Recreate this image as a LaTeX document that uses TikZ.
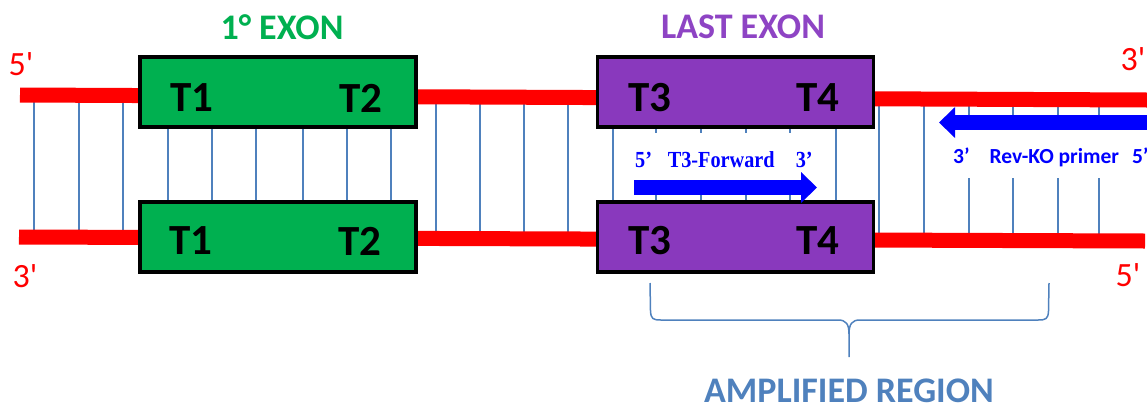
\documentclass[tikz,border=0pt]{standalone}
\usepackage{fontspec}
\setmainfont{Carlito}
\newfontfamily\endf{Carlito}[Ligatures=TeXOff]
\newfontfamily\timesf{Liberation Serif}
\usetikzlibrary{arrows.meta}
\definecolor{dnared}{HTML}{FF0000}
\definecolor{exgreen}{HTML}{00B050}
\definecolor{expurple}{HTML}{8939BD}
\definecolor{txpurple}{HTML}{8E44C4}
\definecolor{rung}{HTML}{4F81BD}
\definecolor{primer}{HTML}{0000FF}
\definecolor{amp}{HTML}{4F81BD}
\tikzset{
  strand/.style={draw=dnared, line width=15},
  rungline/.style={draw=rung, line width=1.4},
  exonbox/.style={draw=black, line width=3.5, minimum width=276, minimum height=70, inner sep=0},
  greenbox/.style={exonbox, fill=exgreen},
  purplebox/.style={exonbox, fill=expurple},
  tlabel/.style={font=\fontsize{43}{43}\selectfont\bfseries, text=black, inner sep=0},
  endlabel/.style={font=\endf\fontsize{34}{34}\selectfont, text=dnared, inner sep=0, draw=dnared, line width=0.5, draw opacity=0},
  title/.style={font=\fontsize{36}{36}\selectfont\bfseries, inner sep=0},
  primerarrow/.style={draw=primer, line width=15, -{Triangle[length=16, width=30]}},
  whitebg/.style={fill=white, inner sep=0},
  bracket/.style={draw=amp, line width=1.5, line join=round}
}
\begin{document}
\begin{tikzpicture}[x=1pt,y=-1pt]
\useasboundingbox (0,0) rectangle (1147,410);
% rungs
\foreach \x in {34,79,123,168,212,256,303,347,391,436,480,524,568,613,656,701,746,790,836,879,924,969,1013,1058,1099}
  \draw[rungline] (\x,98) -- (\x,239);
% strands
\coordinate (topL) at (20,95);
\coordinate (topR) at (1147,100);
\coordinate (botL) at (19,237);
\coordinate (botR) at (1145,241);
\draw[strand] (topL) -- (topR);
\draw[strand] (botL) -- (botR);
% exon boxes
\node[greenbox] (g1) at (278,92) {};
\node[greenbox] (g2) at (278,237) {};
\node[purplebox] (p1) at (735.5,92) {};
\node[purplebox] (p2) at (735.5,237) {};
\node[tlabel] (t1a) at (192,98) {T1};
\node[tlabel] (t2a) at (361,98) {T2};
\node[tlabel] (t1b) at (191,241) {T1};
\node[tlabel] (t2b) at (360,241) {T2};
\node[tlabel] (t3a) at (650,98) {T3};
\node[tlabel] (t4a) at (818,98) {T4};
\node[tlabel] (t3b) at (650,241) {T3};
\node[tlabel] (t4b) at (818,241) {T4};
% titles
\node[title, text=exgreen] (ex1) at (282,27) {1° EXON};
\node[title, text=txpurple] (exl) at (743,27) {LAST EXON};
% end labels
\node[endlabel] (l5a) at (21,64) {5'};
\node[endlabel] (l3a) at (25,276) {3'};
\node[endlabel] (r3a) at (1133,59) {3'};
\node[endlabel] (r5a) at (1128,275) {5'};
% forward primer
\node[whitebg, minimum width=198, minimum height=47] (fwdbg) at (724,156.5) {};
\node[inner sep=0, text=primer, font=\timesf\fontsize{23}{23}\selectfont\bfseries, xscale=0.88, anchor=west] (fwdtxt) at (635,160) {5’\hspace{18pt}T3-Forward\hspace{24pt}3’};
\coordinate (fwdS) at (634,187.5);
\coordinate (fwdE) at (817,187.5);
\draw[primerarrow] (fwdS) -- (fwdE);
% reverse primer
\node[whitebg, minimum width=200, minimum height=48, anchor=north west] (revbg) at (947,130) {};
\node[inner sep=0, text=primer, font=\fontsize{21.5}{21.5}\selectfont\bfseries, anchor=west] (revtxt) at (953,157) {3’\hspace{20pt}Rev-KO primer\hspace{13pt}5’};
\coordinate (revS) at (1147,122.5);
\coordinate (revE) at (939,122.5);
\draw[primerarrow] (revS) -- (revE);
% amplified region bracket
\coordinate (bL) at (650,283);
\coordinate (bR) at (1049,283);
\coordinate (bM) at (849,357);
\draw[bracket] (bL) -- (650.5,311) .. controls (651,319) and (653,320) .. (661,320) -- (838,320) .. controls (846,320) and (849,324) .. (849,334) -- (bM);
\draw[bracket] (849,334) .. controls (849,324) and (852,320) .. (860,320) -- (1038,320) .. controls (1046,320) and (1048,319) .. (1048.5,311) -- (bR);
\node[title, text=amp] (amptxt) at (849,391) {AMPLIFIED REGION};
\end{tikzpicture}
\end{document}
